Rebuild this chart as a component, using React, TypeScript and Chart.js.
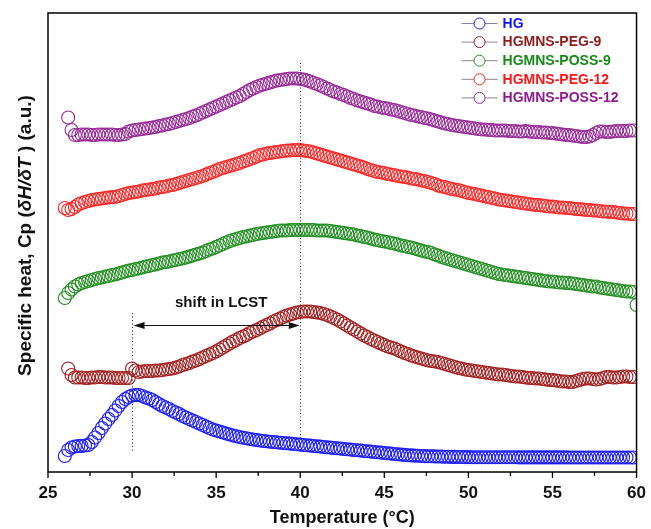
import React, { useEffect, useRef } from 'react';
import { Chart, registerables } from 'chart.js';

Chart.register(...registerables);

const FONT = "'Liberation Sans', Arial, Helvetica, sans-serif";

// Temperature (°C) sampling points
const temperatures = [
  26, 26.2, 26.4, 26.6, 26.8,
  27, 27.2, 27.4, 27.6, 27.8,
  28, 28.2, 28.4, 28.6, 28.8,
  29, 29.2, 29.4, 29.6, 29.8,
  30, 30.2, 30.4, 30.6, 30.8,
  31, 31.2, 31.4, 31.6, 31.8,
  32, 32.2, 32.4, 32.6, 32.8,
  33, 33.2, 33.4, 33.6, 33.8,
  34, 34.2, 34.4, 34.6, 34.8,
  35, 35.2, 35.4, 35.6, 35.8,
  36, 36.2, 36.4, 36.6, 36.8,
  37, 37.2, 37.4, 37.6, 37.8,
  38, 38.2, 38.4, 38.6, 38.8,
  39, 39.2, 39.4, 39.6, 39.8,
  40, 40.2, 40.4, 40.6, 40.8,
  41, 41.2, 41.4, 41.6, 41.8,
  42, 42.2, 42.4, 42.6, 42.8,
  43, 43.2, 43.4, 43.6, 43.8,
  44, 44.2, 44.4, 44.6, 44.8,
  45, 45.2, 45.4, 45.6, 45.8,
  46, 46.2, 46.4, 46.6, 46.8,
  47, 47.2, 47.4, 47.6, 47.8,
  48, 48.2, 48.4, 48.6, 48.8,
  49, 49.2, 49.4, 49.6, 49.8,
  50, 50.2, 50.4, 50.6, 50.8,
  51, 51.2, 51.4, 51.6, 51.8,
  52, 52.2, 52.4, 52.6, 52.8,
  53, 53.2, 53.4, 53.6, 53.8,
  54, 54.2, 54.4, 54.6, 54.8,
  55, 55.2, 55.4, 55.6, 55.8,
  56, 56.2, 56.4, 56.6, 56.8,
  57, 57.2, 57.4, 57.6, 57.8,
  58, 58.2, 58.4, 58.6, 58.8,
  59, 59.2, 59.4, 59.6, 59.8,
  60,
];

// Specific heat (a.u., curves offset vertically)
const hg = [
  12, 18, 20.5, 21.5, 22,
  22, 22.5, 23, 26, 30.5,
  35, 40, 44.5, 49, 53,
  57.5, 62, 66, 69, 71,
  72.5, 73, 73, 72, 70.5,
  69.5, 68, 66, 64, 62,
  60.5, 59, 57, 55.5, 54,
  52, 50.5, 49, 47.5, 46,
  44.5, 43, 41.5, 40, 38.5,
  37.5, 36.5, 35.5, 34.5, 33.5,
  32.5, 31.7, 31, 30.3, 29.7,
  29, 28.5, 28, 27.5, 27,
  26.7, 26.3, 26, 25.7, 25.3,
  25, 24.7, 24.4, 24, 23.7,
  23.4, 23, 22.7, 22.4, 22,
  21.7, 21.4, 21, 20.7, 20.4,
  20, 19.7, 19.4, 19, 18.7,
  18.4, 18, 17.7, 17.4, 17,
  16.7, 16.4, 16, 15.7, 15.4,
  15, 14.7, 14.4, 14, 13.7,
  13.4, 13.1, 12.8, 12.6, 12.4,
  12.2, 12, 11.9, 11.8, 11.7,
  11.6, 11.5, 11.4, 11.3, 11.2,
  11.1, 11.1, 11, 11, 10.9,
  10.9, 10.8, 10.8, 10.8, 10.8,
  10.8, 10.7, 10.7, 10.7, 10.7,
  10.7, 10.7, 10.7, 10.7, 10.7,
  10.6, 10.6, 10.6, 10.6, 10.6,
  10.6, 10.6, 10.6, 10.6, 10.6,
  10.6, 10.6, 10.6, 10.6, 10.6,
  10.5, 10.5, 10.5, 10.5, 10.5,
  10.5, 10.5, 10.5, 10.5, 10.5,
  10.5, 10.5, 10.5, 10.5, 10.5,
  10.5, 10.5, 10.5, 10.5, 10.5,
  null,
];

const peg9 = [
  null, 99.5, 93, 90.5, 90.5,
  90.5, 90, 90, 90.5, 90.5,
  91, 91, 90.5, 90.5, 90.5,
  90, 90, 90, 90, 90,
  99.5, 97.5, 96, 96.5, 97,
  97, 97, 97.5, 97.5, 98,
  98.5, 99, 99.5, 100.5, 101.5,
  103, 104, 105, 106.5, 107.5,
  109, 110.5, 112, 113.5, 115,
  116.5, 118.5, 120.5, 122.5, 124.5,
  126.5, 128, 130, 131.5, 133,
  135, 136.5, 138, 139.5, 141.5,
  143, 144.5, 146.5, 148, 149.5,
  151, 152.5, 153.5, 154.5, 155.5,
  156, 156.5, 156.5, 156.5, 156,
  155.5, 155, 154, 153, 151.5,
  150, 148.5, 146.5, 144.5, 142.5,
  140.5, 138.5, 136.5, 134.5, 132.5,
  131, 129, 127.5, 126, 124.5,
  123, 121.5, 120.5, 119.5, 118,
  116.5, 115, 114, 112.5, 111.5,
  110.5, 109.5, 108.5, 107.5, 107,
  106.5, 106, 105, 104, 103,
  102, 101, 100, 99.5, 98.5,
  98, 97.5, 97, 96.5, 96,
  95.5, 95, 94.5, 94, 93.5,
  93.5, 93, 92.5, 92, 91.5,
  91.5, 91, 90.5, 90, 90,
  89.5, 89.5, 89, 88.5, 88,
  88, 87.5, 87, 86.5, 86.5,
  86, 86, 87, 88, 89,
  89.5, 89.5, 89, 88.5, 89,
  90, 91, 91, 90.5, 90.5,
  91, 91.5, 91.5, 91, 91,
  null,
];

const poss9 = [
  170, 175, 178.5, 181.5, 183.5,
  185, 186, 187, 188, 189,
  190, 190.5, 191.5, 192, 193,
  193.5, 194.5, 195.5, 196.5, 197.5,
  198, 199, 199.5, 200.5, 201.5,
  202, 203, 203.5, 204.5, 205.5,
  206, 206.5, 207.5, 208, 209,
  209.5, 210.5, 211.5, 212.5, 213.5,
  214.5, 215.5, 217, 218.5, 219.5,
  221, 222.5, 224, 225.5, 227,
  228, 229, 230, 231, 231.5,
  232.5, 233, 234, 234.5, 235,
  235.5, 236, 236.5, 237, 237.5,
  237.5, 237.5, 238, 238, 238,
  238, 238, 238, 238, 238,
  237.5, 237.5, 237.5, 237.5, 237,
  236.5, 236, 235.5, 235, 234.5,
  234, 233.5, 232.5, 232, 231,
  230.5, 229.5, 228.5, 228, 227,
  226.5, 226, 225, 224.5, 223.5,
  222.5, 222, 221, 220.5, 219.5,
  218.5, 217.5, 216.5, 216, 215,
  213.5, 212.5, 211, 210, 209,
  208, 207, 206, 205, 204,
  203, 202, 201, 200, 199,
  198, 197, 196, 195, 194,
  193.5, 193, 192.5, 192, 191.5,
  191, 190.5, 190, 189.5, 189,
  188.5, 188, 187.5, 187, 186.5,
  186.5, 186, 185.5, 185.5, 185,
  185, 184.5, 184, 183.5, 183,
  182.5, 182, 181.5, 181.5, 180.5,
  180, 179.5, 179, 178.5, 178,
  177.5, 177, 176.5, 176.5, 176,
  163,
];

const peg12 = [
  260, 258, 259, 261, 263.5,
  265, 266, 267, 268, 268.5,
  269, 269.5, 270, 270.5, 271,
  271, 272, 273, 274, 275,
  275.5, 276, 276.5, 277.5, 278,
  278.5, 279, 279.5, 280.5, 281,
  281.5, 282.5, 283, 284, 285,
  286, 287, 288, 289, 290,
  291, 292, 293.5, 295, 296,
  297.5, 299, 300, 301, 302,
  303, 304, 305, 306.5, 307.5,
  309, 310, 311.5, 313, 313.5,
  314.5, 315, 315.5, 316, 316.5,
  317, 317.5, 317.5, 318, 318,
  318, 317.5, 317, 316.5, 315.5,
  314.5, 313.5, 312.5, 311.5, 310.5,
  309.5, 308.5, 307.5, 306.5, 305.5,
  304.5, 303.5, 302.5, 301.5, 300.5,
  299, 298, 297, 296, 295.5,
  295, 294, 293.5, 293, 292,
  291.5, 291, 290.5, 289.5, 289,
  288.5, 287.5, 287, 286, 285,
  284, 282.5, 281.5, 281, 280,
  279, 278.5, 278, 277, 276,
  275, 274.5, 274, 273, 272.5,
  271.5, 271, 270, 269.5, 268.5,
  268, 267.5, 267, 266.5, 266,
  265.5, 265, 264.5, 264, 263.5,
  263, 263, 262.5, 262, 261.5,
  261.5, 261, 260.5, 260.5, 260,
  260, 259.5, 259, 259, 258.5,
  258, 258, 257.5, 257.5, 257,
  256.5, 256.5, 256, 256, 255.5,
  255, 254.5, 254.5, 254, 254,
  null,
];

const poss12 = [
  null, 350.5, 338, 333, 333,
  333.5, 333.5, 333.5, 333, 333,
  333.5, 333.5, 333.5, 333.5, 333.5,
  333, 333, 333.5, 334, 336.5,
  337.5, 338, 338.5, 339, 339.5,
  340, 340.5, 341, 342, 342.5,
  343.5, 344, 345, 346, 347,
  348, 349, 350, 351.5, 352.5,
  354, 355.5, 357, 358.5, 360,
  361.5, 363, 364.5, 366, 367.5,
  369, 370.5, 372, 374, 376,
  378, 379.5, 381, 382.5, 383.5,
  384.5, 385.5, 386.5, 387.5, 388,
  388.5, 389, 389.5, 389.5, 389.5,
  389, 388.5, 387.5, 386.5, 385,
  384, 382.5, 381, 379.5, 378,
  376.5, 375.5, 374, 373, 371.5,
  370, 369, 367.5, 366.5, 365.5,
  364.5, 363.5, 362, 361.5, 360.5,
  360, 359.5, 358.5, 358, 357,
  356, 355, 354, 353, 352.5,
  351.5, 351, 350, 349.5, 348.5,
  347.5, 346.5, 345.5, 344.5, 344,
  343, 342.5, 342, 341.5, 341,
  340.5, 340, 339.5, 339, 338.5,
  338.5, 338, 338, 337.5, 337.5,
  337.5, 337.5, 337, 337, 337,
  336.5, 336.5, 337, 336.5, 336,
  336, 336, 335.5, 335.5, 335,
  335, 334.5, 334, 333.5, 333,
  333, 332.5, 332, 331.5, 331,
  331, 331.5, 333, 335, 336.5,
  336.5, 336, 336, 336.5, 337,
  337, 337, 337, 337.5, 337.5,
  null,
];

const seriesNames = ['HG', 'HGMNS-PEG-9', 'HGMNS-POSS-9', 'HGMNS-PEG-12', 'HGMNS-POSS-12'];
const seriesValues = [hg, peg9, poss9, peg12, poss12];
const markerColors = ['#1a1aff', '#a31c1c', '#1f8c1f', '#ff2222', '#962896'];
const textColors = ['#1414ff', '#8e1a1a', '#178a17', '#ff1414', '#8e1a8e'];

// Annotations (temperature, level in a.u.)
const guideTemps = [30, 40];
const guideTop = [155, 405];
const guideBottom = [16, 27];
const arrowFrom = 30;
const arrowTo = 40;
const arrowLevel = 143;
const shiftLabel = 'shift in LCST';
const shiftLabelTemp = 35.3;
const shiftLabelLevel = 165;

const xMin = 25;
const xMax = 60;
const xStep = 5;
const yMin = -4;
const yMax = 455;

const decorPlugin = {
  id: 'decor',
  afterDatasetsDraw(chart: any) {
    const { ctx, chartArea: a } = chart;
    const x = chart.scales.x;
    const y = chart.scales.y;
    ctx.save();

    // dotted guide lines
    ctx.strokeStyle = '#222';
    ctx.lineWidth = 1;
    ctx.setLineDash([1, 2.5]);
    guideTemps.forEach((t, i) => {
      const px = Math.round(x.getPixelForValue(t)) + 0.5;
      ctx.beginPath();
      ctx.moveTo(px, y.getPixelForValue(guideTop[i]));
      ctx.lineTo(px, y.getPixelForValue(guideBottom[i]));
      ctx.stroke();
    });
    ctx.setLineDash([]);

    // double arrow
    const ay = Math.round(y.getPixelForValue(arrowLevel)) + 0.5;
    const x1 = x.getPixelForValue(arrowFrom) + 1.5;
    const x2 = x.getPixelForValue(arrowTo) - 0.5;
    ctx.strokeStyle = '#111';
    ctx.beginPath();
    ctx.moveTo(x1 + 4, ay);
    ctx.lineTo(x2 - 4, ay);
    ctx.stroke();
    ctx.fillStyle = '#111';
    ctx.beginPath();
    ctx.moveTo(x1, ay);
    ctx.lineTo(x1 + 11, ay - 3.5);
    ctx.lineTo(x1 + 11, ay + 3.5);
    ctx.closePath();
    ctx.fill();
    ctx.beginPath();
    ctx.moveTo(x2, ay);
    ctx.lineTo(x2 - 11, ay - 3.5);
    ctx.lineTo(x2 - 11, ay + 3.5);
    ctx.closePath();
    ctx.fill();

    ctx.font = `bold 15px ${FONT}`;
    ctx.textAlign = 'center';
    ctx.textBaseline = 'middle';
    ctx.fillText(shiftLabel, x.getPixelForValue(shiftLabelTemp), y.getPixelForValue(shiftLabelLevel));

    // frame
    ctx.strokeStyle = '#000';
    ctx.lineWidth = 1.5;
    ctx.strokeRect(a.left, a.top, a.right - a.left, a.bottom - a.top);

    // x tick marks (major + minor), outward
    ctx.lineWidth = 1.3;
    for (let t = xMin; t <= xMax + 1e-6; t += xStep / 2) {
      const px = x.getPixelForValue(t);
      const major = Math.abs(t / xStep - Math.round(t / xStep)) < 1e-6;
      ctx.beginPath();
      ctx.moveTo(px, a.bottom);
      ctx.lineTo(px, a.bottom + (major ? 6 : 4));
      ctx.stroke();
    }

    // legend
    const lx0 = a.right - 175;
    const lx1 = a.right - 139;
    const cx = a.right - 157;
    const tx = a.right - 134;
    ctx.font = `bold 14px ${FONT}`;
    ctx.textAlign = 'left';
    ctx.textBaseline = 'middle';
    seriesNames.forEach((name, i) => {
      const ly = a.top + 10.5 + i * 18.6;
      ctx.strokeStyle = '#8a8a8a';
      ctx.lineWidth = 1;
      ctx.beginPath();
      ctx.moveTo(lx0, ly);
      ctx.lineTo(lx1, ly);
      ctx.stroke();
      ctx.beginPath();
      ctx.arc(cx, ly, 5.5, 0, Math.PI * 2);
      ctx.fillStyle = '#fff';
      ctx.fill();
      ctx.strokeStyle = markerColors[i];
      ctx.stroke();
      ctx.fillStyle = textColors[i];
      ctx.fillText(name, tx, ly + 0.5);
    });

    // y-axis title with italic part
    const parts = [
      { text: 'Specific heat, Cp (', font: `bold 19px ${FONT}` },
      { text: 'δH/δT', font: `italic bold 19px ${FONT}` },
      { text: ' ) (a.u.)', font: `bold 19px ${FONT}` },
    ];
    let total = 0;
    const widths = parts.map((p) => {
      ctx.font = p.font;
      const w = ctx.measureText(p.text).width;
      total += w;
      return w;
    });
    ctx.translate(a.left - 22, (a.top + a.bottom) / 2 - 7);
    ctx.rotate(-Math.PI / 2);
    ctx.fillStyle = '#111';
    ctx.textAlign = 'left';
    let cur = -total / 2;
    parts.forEach((p, i) => {
      ctx.font = p.font;
      ctx.fillText(p.text, cur, 0);
      cur += widths[i];
    });

    ctx.restore();
  },
};

export default function App() {
  const canvasRef = useRef<HTMLCanvasElement | null>(null);

  useEffect(() => {
    if (!canvasRef.current) return;
    const chart = new Chart(canvasRef.current, {
      type: 'line',
      data: {
        labels: temperatures,
        datasets: seriesNames.map((name, i) => ({
          label: name,
          data: seriesValues[i],
          showLine: false,
          pointStyle: 'circle',
          pointRadius: 6.5,
          pointBorderWidth: 1.1,
          pointBackgroundColor: 'rgba(255,255,255,0)',
          pointBorderColor: markerColors[i],
          borderColor: markerColors[i],
          backgroundColor: 'rgba(255,255,255,0)',
          clip: 0,
        })),
      },
      options: {
        animation: false,
        responsive: true,
        maintainAspectRatio: false,
        events: [],
        layout: { padding: { left: 48, right: 12, top: 13, bottom: 0 } },
        plugins: {
          legend: { display: false },
          tooltip: { enabled: false },
        },
        scales: {
          x: {
            type: 'linear',
            min: xMin,
            max: xMax,
            border: { display: false },
            grid: { display: false, drawTicks: true, tickLength: 6 },
            ticks: {
              stepSize: xStep,
              color: '#111',
              font: { family: FONT, size: 17, weight: 'bold' },
              padding: 5,
              maxRotation: 0,
              autoSkip: false,
            },
            title: {
              display: true,
              text: 'Temperature (°C)',
              color: '#111',
              font: { family: FONT, size: 18, weight: 'bold' },
              padding: { top: 0, bottom: 0 },
            },
            afterFit: (scale: any) => {
              scale.height = 57;
            },
          },
          y: {
            display: false,
            min: yMin,
            max: yMax,
          },
        },
      },
      plugins: [decorPlugin],
    } as any);
    return () => chart.destroy();
  }, []);

  return (
    <div style={{ position: 'fixed', left: 0, top: 0, width: 651, height: 529, background: '#fff' }}>
      <canvas ref={canvasRef} />
    </div>
  );
}
